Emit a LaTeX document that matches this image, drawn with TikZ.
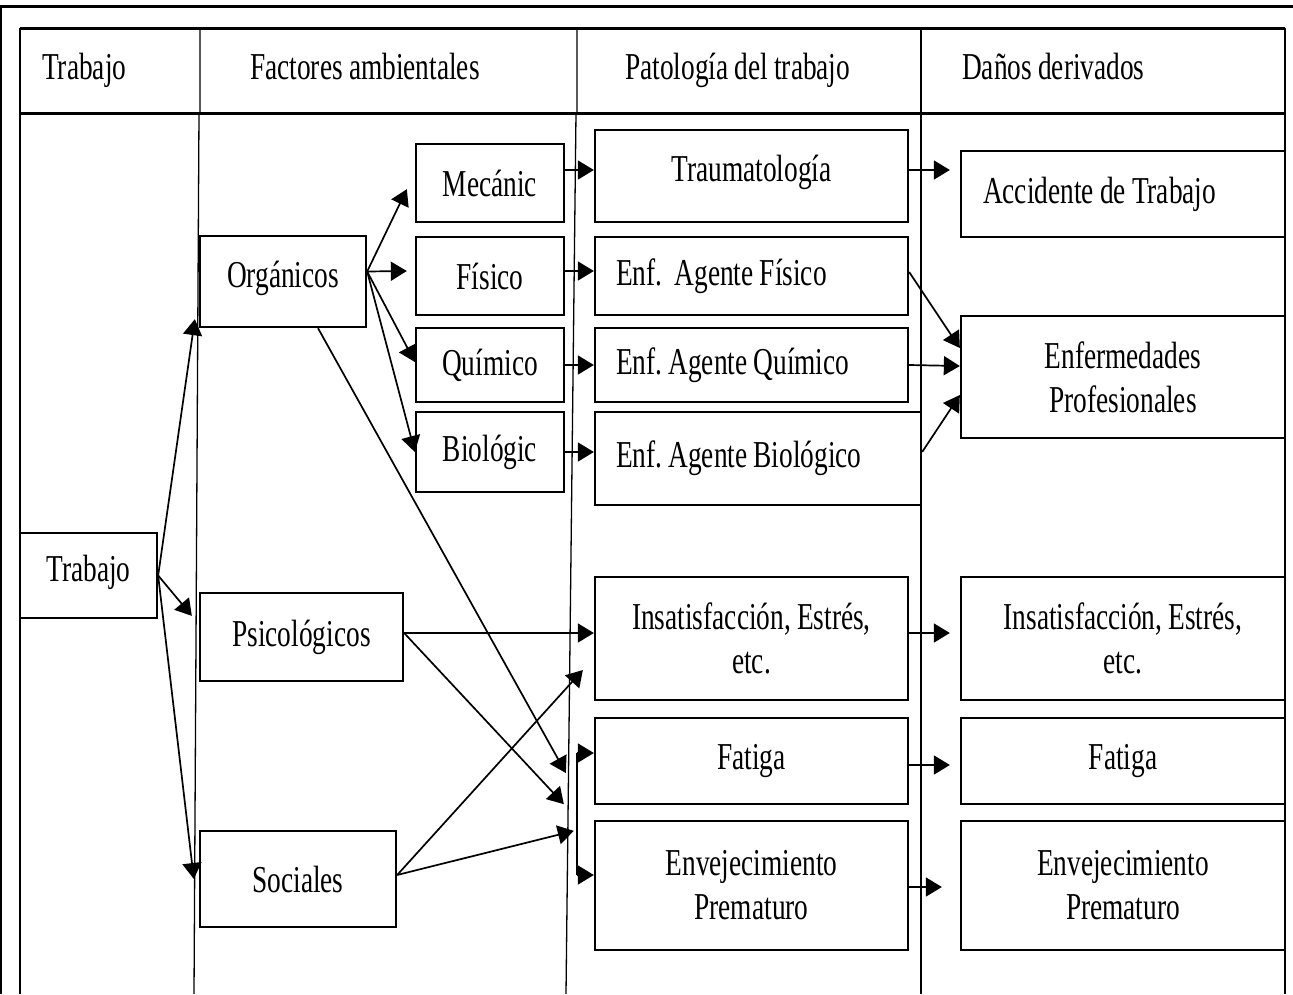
\documentclass[tikz,border=0pt]{standalone}
\usepackage{fontspec}
\setmainfont{Liberation Serif}[FakeStretch=0.72, WordSpace=0.9]
\usetikzlibrary{arrows.meta}
\tikzset{
  box/.style={draw, line width=2.3pt, inner sep=0pt, align=center},
  arr/.style={line width=1.7pt, -{Triangle[length=16pt,width=19pt]}},
  stub/.style={line width=1.7pt},
  rule/.style={line width=1.3pt},
  hrule/.style={line width=3pt},
  head/.style={anchor=base west, inner sep=0pt},
}
% box node given by its two corners: [style]{name}{x1}{y1}{x2}{y2}{text}
\newcommand\bnode[7][]{%
  \pgfmathsetmacro\bcx{(#3+#5)/2}%
  \pgfmathsetmacro\bcy{(#4+#6)/2}%
  \pgfmathsetmacro\bw{#5-#3}%
  \pgfmathsetmacro\bh{#6-#4}%
  \node[box, minimum width=\bw pt, minimum height=\bh pt, #1] (#2) at (\bcx,\bcy) {#7};}
% left-aligned single line of a given width
\newcommand\lline[2]{\makebox[#1][l]{#2}}
\begin{document}
\begin{tikzpicture}[x=1pt, y=-1pt, font=\fontsize{38}{44}\selectfont]
\useasboundingbox (0,0) rectangle (1293,994);
% page frame
\draw[hrule] (0,6) -- (1293,6);
\draw[rule] (1,6) -- (1,994);
% table grid
\draw[hrule] (20,28) -- (1285,28);
\draw[hrule] (20,113) -- (1285,113);
\draw[rule] (20,28) -- (20,994);
\draw[rule] (1285,28) -- (1285,994);
\draw[rule] (200,28) -- (200,113) (199,113) -- (194,994);
\draw[rule] (577,28) -- (577,113) (576,113) -- (566,994);
\draw[rule] (921,28) -- (921,994);
% column headers
\node[head] (h1) at (42,79) {Trabajo};
\node[head] (h2) at (250,79) {Factores ambientales};
\node[head] (h3) at (625,79) {Patología del trabajo};
\node[head] (h4) at (962,79) {Daños derivados};
% boxes
\bnode[text depth=14pt]{trab}{20}{533}{157}{618}{Trabajo}
\bnode[text depth=14pt]{org}{200}{236}{366}{327}{Orgánicos}
\bnode{psi}{200}{593}{403}{681}{Psicológicos}
\bnode{soc}{200}{831}{396}{927}{Sociales}
\bnode{mec}{416}{144}{564}{222}{Mecánic}
\bnode{fis}{416}{237}{564}{315}{Físico}
\bnode{qui}{416}{328}{564}{402}{Químico}
\bnode{bio}{416}{412}{564}{492}{Biológic}
\bnode[text depth=16pt]{tra}{595}{130}{908}{222}{Traumatología}
\bnode{efi}{595}{237}{908}{315}{\lline{271pt}{Enf.\ \ Agente Físico}}
\bnode{equ}{595}{328}{908}{402}{\lline{271pt}{Enf.\ Agente Químico}}
\bnode{ebi}{595}{412}{921}{505}{\lline{284pt}{Enf.\ Agente Biológico}}
\bnode{ins}{595}{577}{908}{700}{Insatisfacción, Estrés,\\etc.}
\bnode{fat}{595}{718}{908}{804}{Fatiga}
\bnode{env}{595}{821}{908}{950}{Envejecimiento\\Prematuro}
\bnode{acc}{961}{151}{1285}{237}{\lline{280pt}{Accidente de Trabajo}}
\bnode{enf}{961}{316}{1285}{438}{Enfermedades\\Profesionales}
\bnode{ins2}{961}{577}{1285}{700}{Insatisfacción, Estrés,\\etc.}
\bnode{fat2}{961}{718}{1285}{804}{Fatiga}
\bnode{env2}{961}{821}{1285}{950}{Envejecimiento\\Prematuro}
% Trabajo -> factor groups
\draw[arr] (trab.east) -- ([xshift=-4pt,yshift=9pt]org.south west);
\draw[arr] (trab.east) -- ([xshift=-7pt,yshift=-24pt]psi.north west);
\draw[arr] (trab.east) -- ([xshift=-5pt]soc.west);
% organic factors
\coordinate (o1) at ([yshift=10pt]org.east);
\draw[arr] (o1) -- ([xshift=-8pt,yshift=34pt]mec.south west);
\draw[arr] (o1) -- ([xshift=-8pt,yshift=5pt]fis.west);
\draw[arr] (o1) -- ([yshift=3pt]qui.west);
\draw[arr] (o1) -- (bio.west);
\draw[arr] ([yshift=13pt]mec.east) -- ([yshift=6pt]tra.west);
\draw[arr] ([yshift=5pt]fis.east) -- ([yshift=5pt]efi.west);
\draw[arr] (qui.east) -- (equ.west);
\draw[arr] (bio.east) -- ([yshift=6.5pt]ebi.west);
% pathology -> damages
\draw[arr] ([yshift=6pt]tra.east) -- ([xshift=-10pt,yshift=24pt]acc.west);
\draw[arr] ([yshift=4pt]efi.east) -- ([yshift=29pt]enf.west);
\draw[arr] (equ.east) -- ([yshift=11pt]enf.west);
\draw[arr] ([yshift=6.5pt]ebi.east) -- ([yshift=-18pt]enf.west);
% crossing links
\draw[arr] ([xshift=35pt]org.south) -- ([xshift=-28pt,yshift=-12pt]fat.west);
\coordinate (p1) at ([yshift=4pt]psi.east);
\draw[arr] (p1) -- ([yshift=5.5pt]ins.west);
\draw[arr] (p1) -- ([xshift=-30pt,yshift=1pt]fat.south west);
\coordinate (s1) at ([yshift=4pt]soc.east);
\draw[arr] (s1) -- ([xshift=-11pt,yshift=-31.5pt]ins.west);
\draw[arr] (s1) -- ([xshift=-20pt,yshift=-11pt]env.north west);
% bracket feeding Fatiga and Envejecimiento
\coordinate (bt) at ([xshift=-17pt,yshift=8pt]fat.west);
\coordinate (bb) at ([xshift=-17pt,yshift=10.5pt]env.west);
\draw[stub] (bt) -- (bb);
\draw[arr] (bt) -- ([yshift=8pt]fat.west);
\draw[arr] (bb) -- ([yshift=10.5pt]env.west);
% lower rows
\draw[arr] ([yshift=5.5pt]ins.east) -- ([xshift=-10pt,yshift=5.5pt]ins2.west);
\draw[arr] ([yshift=-4pt]fat.east) -- ([xshift=-10pt,yshift=-4pt]fat2.west);
\draw[arr] ([yshift=-1.5pt]env.east) -- ([xshift=-18pt,yshift=-1.5pt]env2.west);
\end{tikzpicture}
\end{document}
